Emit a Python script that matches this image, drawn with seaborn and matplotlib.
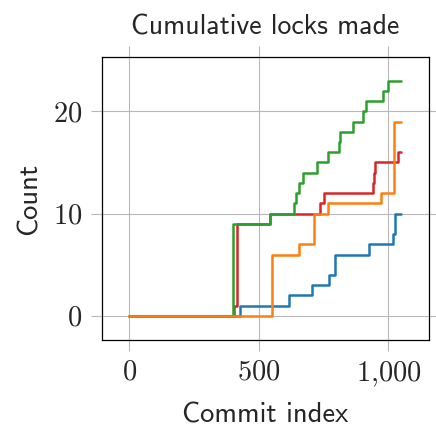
import matplotlib
matplotlib.use("Agg")
import matplotlib.pyplot as plt
import seaborn as sns
import pandas as pd

# step points (commit index where the cumulative count changes)
blue_x = [0, 425, 617, 705, 771, 794, 925, 1018, 1027, 1050]
blue_y = [0, 1, 2, 3, 4, 6, 7, 8, 10, 10]

red_x = [0, 404, 414, 544, 737, 750, 942, 946, 950, 1037, 1050]
red_y = [0, 1, 9, 10, 11, 12, 13, 14, 15, 16, 16]

green_x = [0, 398, 544, 634, 645, 654, 669, 724, 768, 810, 815, 865, 903, 915, 978, 998, 1050]
green_y = [0, 9, 10, 11, 12, 13, 14, 15, 16, 17, 18, 19, 20, 21, 22, 23, 23]

orange_x = [0, 552, 655, 713, 766, 972, 1022, 1050]
orange_y = [0, 6, 7, 10, 11, 12, 19, 19]

x_ticks = [0, 500, 1000]
x_tick_labels = ["$0$", "$500$", "$1{,}000$"]
y_ticks = [0, 10, 20]
y_tick_labels = ["$0$", "$10$", "$20$"]

series = {
    "blue": (blue_x, blue_y),
    "red": (red_x, red_y),
    "green": (green_x, green_y),
    "orange": (orange_x, orange_y),
}
colors = {"blue": "#1f77b4", "red": "#d62728", "green": "#2ca02c", "orange": "#ff7f0e"}

frames = []
for name, (xs, ys) in series.items():
    frames.append(pd.DataFrame({"commit": xs, "count": ys, "series": name}))
df = pd.concat(frames, ignore_index=True)

sns.set_style("white")
plt.rcParams["mathtext.fontset"] = "cm"
plt.rcParams["font.family"] = ["cmss10", "DejaVu Sans"]

fig = plt.figure(figsize=(4.36, 4.29), dpi=100)
ax = fig.add_axes([0.234, 0.2075, 0.75, 0.6595])

sns.lineplot(
    data=df, x="commit", y="count", hue="series",
    hue_order=list(series.keys()), palette=colors,
    estimator=None, drawstyle="steps-post", linewidth=1.8,
    legend=False, ax=ax,
)

ax.set_xlim(-106, 1157)
ax.set_ylim(-2.35, 25.3)
ax.set_xticks(x_ticks, x_tick_labels)
ax.set_yticks(y_ticks, y_tick_labels)
ax.grid(True, color="#b8b8b8", linewidth=0.8)
ax.set_axisbelow(True)
ax.tick_params(axis="both", which="both", direction="out", length=8, width=0.8,
               color="#b8b8b8", labelsize=20.5, pad=6,
               top=True, right=True, bottom=True, left=True)
for spine in ax.spines.values():
    spine.set_color("black")
    spine.set_linewidth(0.9)

ax.set_title("Cumulative locks made", fontsize=20, pad=16)
ax.set_xlabel("Commit index", fontsize=20.5, labelpad=10)
ax.set_ylabel("Count", fontsize=20.5, labelpad=8)

fig.savefig("out.png", dpi=100)
